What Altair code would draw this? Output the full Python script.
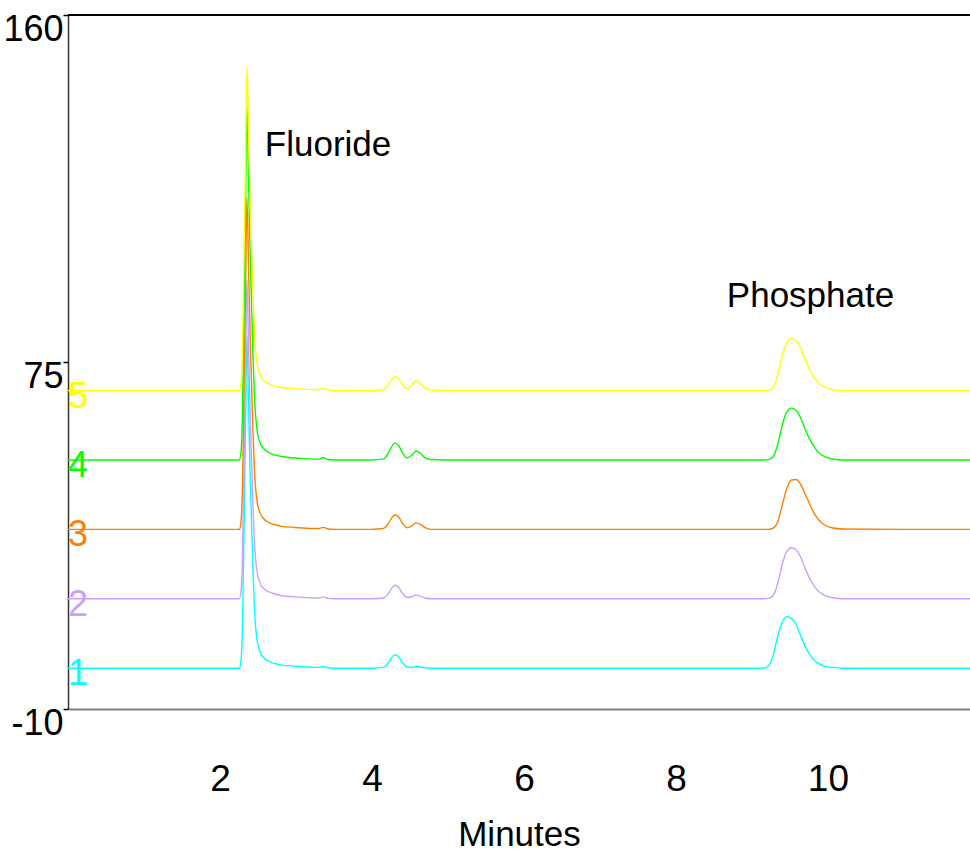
import altair as alt
import pandas as pd

FONT = "Liberation Sans, Arial, sans-serif"

# retention time grid (minutes), shared by all traces
TIME = [0.0, 1.0, 2.0, 2.2, 2.255, 2.275, 2.295, 2.315, 2.335, 2.355, 2.375, 2.395, 2.415, 2.435, 2.455,
        2.485, 2.525, 2.575, 2.655, 2.8, 3.05, 3.25, 3.3, 3.36, 3.42, 3.5, 4.0,
        4.15, 4.2, 4.25, 4.3, 4.35, 4.4, 4.46, 4.52, 4.58, 4.64, 4.7, 4.78,
        5.0, 6.0, 7.0, 8.0, 9.0,
        9.15, 9.22, 9.28, 9.34, 9.4, 9.46, 9.52, 9.58, 9.64, 9.7, 9.76, 9.82, 9.88, 9.95, 10.05, 10.2,
        11.0, 11.87]

TRACE_1 = [0.0, 0.0, 0.0, 0.0, 0.0, 1.6, 9.8, 32.6, 57.1, 81.5, 65.2, 48.9, 35.9, 23.6, 13.9,
           7.3, 4.1, 2.6, 1.6, 0.8, 0.4, 0.2, 0.2, 0.4, 0.1, 0.0, 0.0,
           0.2, 0.9, 2.3, 3.3, 2.8, 1.4, 0.3, 0.2, 0.4, 0.3, 0.1, 0.0,
           0.0, 0.0, 0.0, 0.0, 0.0,
           0.0, 0.6, 3.2, 7.8, 11.3, 12.6, 12.2, 10.7, 8.1, 5.4, 3.4, 2.0, 1.1, 0.5, 0.2, 0.0,
           0.0, 0.0]

TRACE_2 = [17.0, 17.0, 17.0, 17.0, 17.0, 18.6, 26.4, 48.3, 71.7, 95.2, 79.6, 63.9, 51.4, 39.7, 30.3,
           24.0, 20.9, 19.5, 18.6, 17.8, 17.4, 17.2, 17.2, 17.4, 17.1, 17.0, 17.0,
           17.2, 17.9, 19.3, 20.3, 19.8, 18.4, 17.3, 17.5, 17.9, 17.6, 17.2, 17.0,
           17.0, 17.0, 17.0, 17.0, 17.0,
           17.0, 17.1, 17.8, 20.8, 25.5, 28.6, 29.5, 29.0, 27.3, 24.5, 22.0, 20.1, 18.8, 17.9, 17.3, 17.0,
           17.0, 17.0]

TRACE_3 = [34.0, 34.0, 34.0, 34.0, 34.0, 35.6, 43.8, 66.5, 90.9, 115.3, 99.0, 82.8, 69.8, 57.6, 47.8,
           41.3, 38.1, 36.6, 35.6, 34.8, 34.4, 34.2, 34.2, 34.5, 34.1, 34.0, 34.0,
           34.2, 35.0, 36.5, 37.6, 37.1, 35.5, 34.4, 34.8, 35.6, 35.2, 34.4, 34.0,
           34.0, 34.0, 34.0, 34.0, 34.0,
           34.0, 34.0, 34.3, 35.8, 40.0, 44.1, 46.1, 46.2, 45.1, 42.7, 40.2, 37.9, 36.3, 35.2, 34.4, 34.1,
           34.0, 34.0]

TRACE_4 = [51.0, 51.0, 51.0, 51.0, 51.0, 52.7, 61.4, 85.7, 111.8, 137.8, 120.4, 103.1, 89.2, 76.2, 65.8,
           58.8, 55.3, 53.8, 52.7, 51.9, 51.4, 51.2, 51.2, 51.6, 51.1, 51.0, 51.0,
           51.2, 52.2, 53.9, 55.2, 54.6, 52.8, 51.5, 52.1, 53.2, 52.6, 51.5, 51.1,
           51.0, 51.0, 51.0, 51.0, 51.0,
           51.0, 51.1, 51.8, 54.8, 59.6, 62.8, 63.7, 63.2, 61.4, 58.6, 56.1, 54.2, 52.8, 51.9, 51.3, 51.0,
           51.0, 51.0]

TRACE_5 = [68.0, 68.0, 68.0, 68.0, 68.0, 69.6, 77.5, 99.8, 123.6, 147.4, 131.5, 115.6, 102.9, 91.0, 81.5,
           75.1, 72.0, 70.5, 69.6, 68.8, 68.4, 68.2, 68.2, 68.5, 68.1, 68.0, 68.0,
           68.2, 69.0, 70.4, 71.4, 70.9, 69.5, 68.5, 69.2, 70.4, 69.7, 68.6, 68.1,
           68.0, 68.0, 68.0, 68.0, 68.0,
           68.0, 68.1, 68.8, 71.8, 76.6, 79.8, 80.7, 80.2, 78.4, 75.6, 73.1, 71.2, 69.8, 68.9, 68.3, 68.0,
           68.0, 68.0]

SERIES = ["1", "2", "3", "4", "5"]
COLORS = ["#00FFFF", "#C9A0FF", "#FF8000", "#00FF00", "#FFFF00"]
TRACE_BASE = [0, 17, 34, 51, 68]

PEAK_NAMES = ["Fluoride", "Phosphate"]
PEAK_T = [2.59, 8.67]
PEAK_V = [125.5, 88.5]

X_TICKS = [2, 4, 6, 8, 10]
Y_TICKS = [-10, 75, 160]
X_DOMAIN = [0, 11.87]
Y_DOMAIN = [-10, 160]

rows = []
for name, vals in zip(SERIES, [TRACE_1, TRACE_2, TRACE_3, TRACE_4, TRACE_5]):
    for t, v in zip(TIME, vals):
        rows.append({"t": t, "v": v, "s": name})
df = pd.DataFrame(rows)

xscale = alt.Scale(domain=X_DOMAIN, nice=False, zero=False)
yscale = alt.Scale(domain=Y_DOMAIN, nice=False, zero=False)
cscale = alt.Scale(domain=SERIES, range=COLORS)

XAXIS = alt.Axis(
    values=X_TICKS, title="Minutes", ticks=False, tickSize=0,
    domainColor="#808080", domainWidth=2, labelFontSize=37, labelFont=FONT,
    labelColor="black", labelBaseline="top", labelPadding=52, labelFlush=False,
    labelOverlap=False, titleFontSize=35, titleFont=FONT, titleFontWeight="normal",
    titleColor="black", titleY=136, titleBaseline="alphabetic", grid=False)
YAXIS = alt.Axis(
    values=Y_TICKS, title=None, tickSize=5, tickColor="black", tickWidth=1.5,
    domainColor="#333333", domainWidth=1.5, labelFontSize=36, labelFont=FONT,
    labelColor="black", labelBaseline="top", labelOffset=-3, labelPadding=0,
    labelAlign="right", labelOverlap=False, grid=False,
    labelExpr="'' + datum.value")

X = alt.X("t:Q", scale=xscale, axis=XAXIS)
Y = alt.Y("v:Q", scale=yscale, axis=YAXIS)

lines = alt.Chart(df).mark_line(interpolate="monotone", strokeWidth=1.4, clip=True).encode(
    x=X, y=Y,
    color=alt.Color("s:N", scale=cscale, legend=None),
)

top = alt.Chart(pd.DataFrame({"v": [Y_DOMAIN[1]]})).mark_rule(color="black", strokeWidth=2).encode(
    y=Y
)

ann = alt.Chart(pd.DataFrame({"t": PEAK_T, "v": PEAK_V, "label": PEAK_NAMES})).mark_text(
    align="left", baseline="alphabetic", fontSize=35, font=FONT, color="black"
).encode(x=X, y=Y, text="label:N")

nums = alt.Chart(pd.DataFrame({"t": [0] * 5, "v": TRACE_BASE, "s": SERIES})).mark_text(
    align="left", baseline="alphabetic", fontSize=36, font=FONT, dx=0, dy=17
).encode(
    x=X, y=Y, text="s:N",
    color=alt.Color("s:N", scale=cscale, legend=None),
)

chart = alt.layer(lines, top, ann, nums).properties(
    width=902, height=694,
    autosize=alt.AutoSizeParams(type="none"),
    padding={"left": 68, "top": 15, "right": 0, "bottom": 144},
).configure_view(stroke=None)

chart.save("out.html", embed_options={"renderer": "svg", "actions": False})
